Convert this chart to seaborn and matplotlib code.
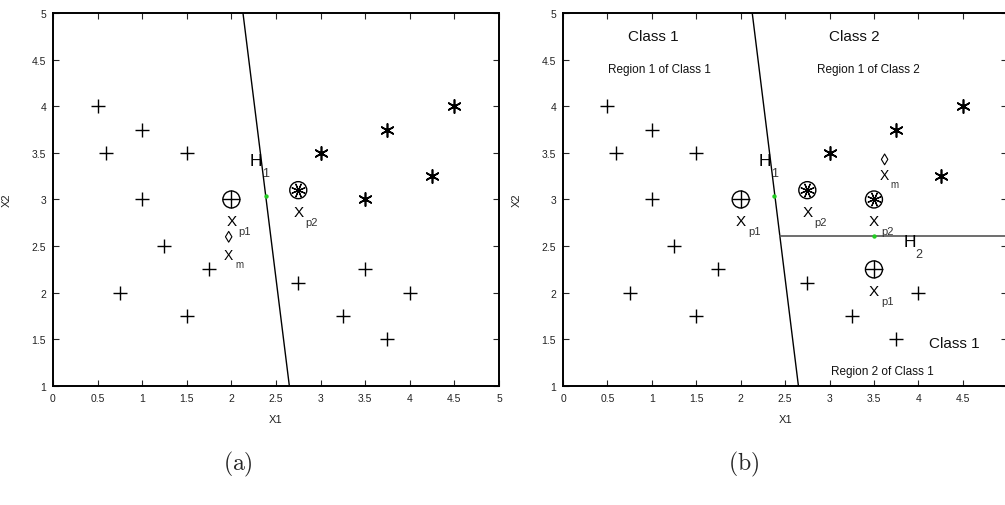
import matplotlib
matplotlib.use("Agg")
import matplotlib.pyplot as plt
import numpy as np
import pandas as pd
import seaborn as sns

sns.set_theme(style="white")
plt.rcParams["font.family"] = ["Liberation Sans", "DejaVu Sans"]

# ---- data -------------------------------------------------------------
# class 1 training points (plus markers)
class1_x = [0.5, 1.0, 0.6, 1.5, 1.0, 1.25, 0.75, 1.75, 1.5, 2.75, 3.5, 3.25, 3.75, 4.0]
class1_y = [4.0, 3.75, 3.5, 3.5, 3.0, 2.5, 2.0, 2.25, 1.75, 2.1, 2.25, 1.75, 1.5, 2.0]
# class 2 training points (asterisk markers)
class2_x = [3.0, 3.75, 4.5, 4.25, 3.5]
class2_y = [3.5, 3.75, 4.0, 3.25, 3.0]

# panel (a): prototypes, mean point, hyperplane H1
a_p1 = (2.0, 3.0)
a_p2 = (2.75, 3.1)
a_m = (1.97, 2.6)
a_mid = [(2.39, 3.04)]

# panel (b): prototypes of the two regions of class 1 and class 2
b_p1 = [(2.0, 3.0), (3.5, 2.25)]
b_p2 = [(2.75, 3.1), (3.5, 3.0)]
b_m = (3.62, 3.43)
b_mid = [(2.38, 3.04), (3.5, 2.61)]

# separating hyperplanes
h1_x = [2.13, 2.65]
h1_y = [5.0, 1.0]
h2_x = [2.44, 5.2]
h2_y = [2.61, 2.61]

ticks = [0, 0.5, 1, 1.5, 2, 2.5, 3, 3.5, 4, 4.5, 5]
yticks = [1, 1.5, 2, 2.5, 3, 3.5, 4, 4.5, 5]

# ---- figure -----------------------------------------------------------
fig = plt.figure(figsize=(10.05, 5.06), dpi=100)
ax_a = fig.add_axes([0.0527, 0.2352, 0.4438, 0.7372])
ax_b = fig.add_axes([0.5602, 0.2352, 0.4420, 0.7372])

PLUS_S = 110
STAR_S = 90
STAR_MK = (6, 2, 0)


def scatter(ax, pts, marker, s, color="black", lw=1.0, **kw):
    df = pd.DataFrame(pts, columns=["x", "y"])
    sns.scatterplot(data=df, x="x", y="y", ax=ax, marker=marker, s=s,
                    color=color, linewidth=lw, legend=False, zorder=3, **kw)


def circle_plus(ax, pts):
    scatter(ax, pts, "o", 150, lw=1.0, facecolor="none", edgecolor="black")
    scatter(ax, pts, "+", 150, lw=1.0)


def circle_star(ax, pts):
    scatter(ax, pts, "o", 150, lw=1.0, facecolor="none", edgecolor="black")
    scatter(ax, pts, (8, 2, 22.5), 95, lw=0.9)
    scatter(ax, pts, "o", 12, lw=0)


def sub_label(ax, x, y, main, sub, size=11, subsize=8, dx=0.08, dy=-0.11,
              color="black"):
    ax.text(x, y, main, fontsize=size, ha="center", va="center", color=color,
            zorder=4)
    ax.text(x + dx, y + dy, sub, fontsize=subsize, ha="left", va="center",
            color="#333333", zorder=4)


def style_axes(ax, show_last_x=True):
    ax.set_xlim(0, 5)
    ax.set_ylim(1, 5)
    ax.set_xticks(ticks)
    ax.set_yticks(yticks)
    labels = [f"{t:g}" for t in ticks]
    if not show_last_x:
        labels[-1] = ""
    ax.set_xticklabels(labels)
    ax.set_yticklabels([f"{t:g}" for t in yticks])
    ax.tick_params(direction="in", length=4, width=0.8, top=True, right=True,
                   labelsize=7.5, labelcolor="#222222", pad=5,
                   bottom=True, left=True)
    for sp in ax.spines.values():
        sp.set_visible(True)
        sp.set_color("black")
        sp.set_linewidth(1.4)
    ax.set_xlabel("X1", fontsize=8, labelpad=8, color="#222222")
    ax.set_ylabel("X2", fontsize=8, labelpad=14, color="#222222")
    ax.grid(False)


# ---- panel (a) ---------------------------------------------------------
c1 = list(zip(class1_x, class1_y))
c2 = list(zip(class2_x, class2_y))

scatter(ax_a, c1, "+", PLUS_S)
scatter(ax_a, c2, STAR_MK, STAR_S, lw=1.2)
scatter(ax_a, c2, "o", 12, lw=0)
circle_plus(ax_a, [a_p1])
circle_star(ax_a, [a_p2])
scatter(ax_a, [a_m], "d", 30, lw=0.8, facecolor="none", edgecolor="black")
sns.lineplot(x=h1_x, y=h1_y, ax=ax_a, color="black", linewidth=1.0, sort=False)
scatter(ax_a, a_mid, "o", 10, color="#22cc22", lw=0)

sub_label(ax_a, 2.0, 2.77, "X", "p1")
sub_label(ax_a, 2.75, 2.87, "X", "p2")
sub_label(ax_a, 1.97, 2.4, "X", "m", size=10, subsize=7, dx=0.07, dy=-0.09)
sub_label(ax_a, 2.27, 3.42, "H", "1", size=12.5, subsize=9, dx=0.07, dy=-0.14)
style_axes(ax_a)

# ---- panel (b) ---------------------------------------------------------
c1_b = [p for p in c1 if p != b_p1[1]]
c2_b = [p for p in c2 if p != b_p2[1]]

scatter(ax_b, c1_b, "+", PLUS_S)
scatter(ax_b, c2_b, STAR_MK, STAR_S, lw=1.2)
scatter(ax_b, c2_b, "o", 12, lw=0)
circle_plus(ax_b, b_p1)
circle_star(ax_b, b_p2)
scatter(ax_b, [b_m], "d", 30, lw=0.8, facecolor="none", edgecolor="black")
sns.lineplot(x=h1_x, y=h1_y, ax=ax_b, color="black", linewidth=1.0, sort=False)
sns.lineplot(x=h2_x, y=h2_y, ax=ax_b, color="#555555", linewidth=1.2, sort=False)
scatter(ax_b, b_mid, "o", 10, color="#22cc22", lw=0)

sub_label(ax_b, 2.0, 2.77, "X", "p1")
sub_label(ax_b, 2.75, 2.87, "X", "p2")
sub_label(ax_b, 3.5, 2.77, "X", "p2")
sub_label(ax_b, 3.5, 2.02, "X", "p1")
sub_label(ax_b, 3.62, 3.26, "X", "m", size=10, subsize=7, dx=0.07, dy=-0.09)
sub_label(ax_b, 2.27, 3.42, "H", "1", size=12.5, subsize=9, dx=0.07, dy=-0.14)
sub_label(ax_b, 3.9, 2.55, "H", "2", size=12.5, subsize=9, dx=0.07, dy=-0.14)

region_text = [
    (1.02, 4.75, "Class 1", 11),
    (1.09, 4.4, "Region 1 of Class 1", 8.5),
    (3.28, 4.75, "Class 2", 11),
    (3.44, 4.4, "Region 1 of Class 2", 8.5),
    (4.4, 1.46, "Class 1", 11),
    (3.59, 1.16, "Region 2 of Class 1", 8.5),
]
for x, y, s, fs in region_text:
    ax_b.text(x, y, s, fontsize=fs, ha="center", va="center", color="#111111")
style_axes(ax_b, show_last_x=False)

# ---- panel captions ------------------------------------------------------
fig.text(0.2368, 0.083, r"$(\mathrm{a})$", fontsize=17, ha="center",
         va="center", math_fontfamily="cm")
fig.text(0.7403, 0.083, r"$(\mathrm{b})$", fontsize=17, ha="center",
         va="center", math_fontfamily="cm")

fig.savefig("out.png", dpi=100, facecolor="white")
